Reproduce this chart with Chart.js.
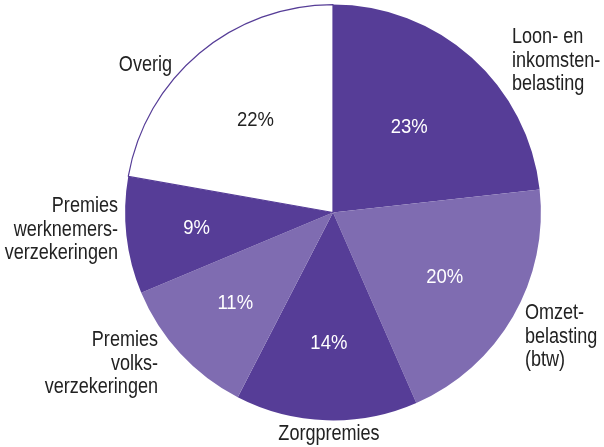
<!DOCTYPE html>
<html>
<head>
<meta charset="utf-8">
<script src="https://cdn.jsdelivr.net/npm/chart.js@4/dist/chart.umd.min.js"></script>
<style>
  html, body { margin: 0; padding: 0; background: #fff; }
  #wrap { width: 604px; height: 447px; position: relative; }
</style>
</head>
<body>
<div id="wrap"><canvas id="chart"></canvas></div>
<script>
// data
const categories = [
  "Loon- en inkomstenbelasting",
  "Omzetbelasting (btw)",
  "Zorgpremies",
  "Premies volksverzekeringen",
  "Premies werknemersverzekeringen",
  "Overig",
];
const shares = [23, 20, 14, 11, 9, 22];
const valueLabels = ["23%", "20%", "14%", "11%", "9%", "22%"];

// styling
const DARK = "#563d97";
const LIGHT = "#7f6cb1";
const sliceColors = [DARK, LIGHT, DARK, LIGHT, DARK, "#ffffff"];
const valueColors = ["#fff", "#fff", "#fff", "#fff", "#fff", "#222"];
const valueRadius = [0.55, 0.62, 0.63, 0.64, 0.66, 0.58];
const FONT = '"Liberation Sans", Arial, sans-serif';
const SQUEEZE = 0.82; // the original uses a condensed face

// outer category labels: lines, x, first line y, alignment
const outerLabels = [
  { lines: ["Loon- en", "inkomsten-", "belasting"], x: 512, y: 37, align: "left" },
  { lines: ["Omzet-", "belasting", "(btw)"], x: 525, y: 313, align: "left" },
  { lines: ["Zorgpremies"], x: 329, y: 434, align: "center" },
  { lines: ["Premies", "volks-", "verzekeringen"], x: 158, y: 340, align: "right" },
  { lines: ["Premies", "werknemers-", "verzekeringen"], x: 118, y: 206, align: "right" },
  { lines: ["Overig"], x: 172, y: 65, align: "right" },
];

function squeezedText(ctx, text, x, y, sx) {
  ctx.save();
  ctx.translate(x, y);
  ctx.scale(sx, 1);
  ctx.fillText(text, 0, 0);
  ctx.restore();
}

const labelPlugin = {
  id: "pieLabels",
  afterDraw(chart) {
    const ctx = chart.ctx;
    const arcs = chart.getDatasetMeta(0).data;
    ctx.save();
    ctx.textBaseline = "middle";
    ctx.font = "21px " + FONT;
    ctx.textAlign = "center";
    arcs.forEach((arc, i) => {
      const p = arc.getProps(["x", "y", "startAngle", "endAngle", "outerRadius"], true);
      const mid = (p.startAngle + p.endAngle) / 2;
      const r = p.outerRadius * valueRadius[i];
      ctx.fillStyle = valueColors[i];
      squeezedText(ctx, valueLabels[i], p.x + Math.cos(mid) * r, p.y + Math.sin(mid) * r, 0.88);
    });
    ctx.font = "22px " + FONT;
    ctx.fillStyle = "#222";
    outerLabels.forEach((l) => {
      ctx.textAlign = l.align;
      l.lines.forEach((line, j) => {
        squeezedText(ctx, line, l.x, l.y + j * 23.5, SQUEEZE);
      });
    });
    ctx.restore();
  },
};

new Chart(document.getElementById("chart"), {
  type: "pie",
  data: {
    labels: categories,
    datasets: [
      {
        data: shares,
        backgroundColor: sliceColors,
        borderColor: [DARK, LIGHT, DARK, LIGHT, DARK, DARK],
        borderWidth: [0, 0, 0, 0, 0, 1.2],
      },
    ],
  },
  options: {
    responsive: true,
    maintainAspectRatio: false,
    animation: false,
    layout: { padding: { top: 4, bottom: 26, left: 62, right: 0 } },
    plugins: {
      legend: { display: false },
      tooltip: { enabled: false },
    },
  },
  plugins: [labelPlugin],
});
</script>
</body>
</html>
